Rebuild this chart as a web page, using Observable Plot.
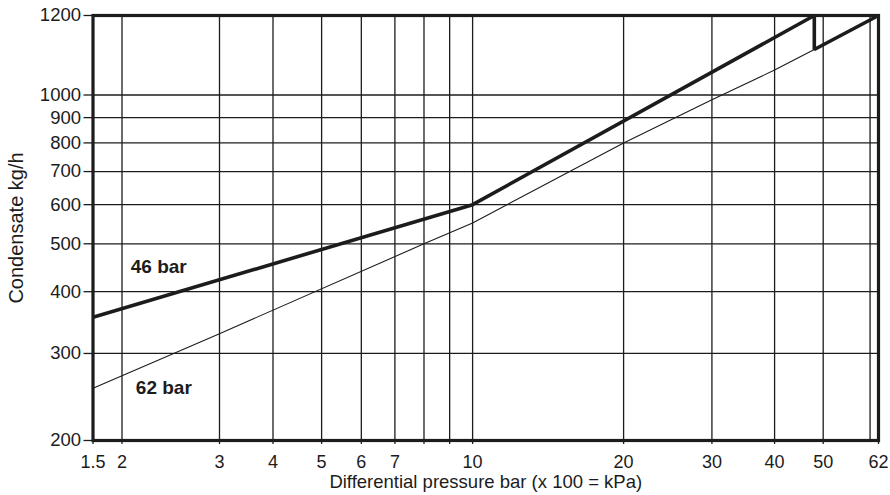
<!DOCTYPE html>
<html>
<head>
<meta charset="utf-8">
<script src="https://cdn.jsdelivr.net/npm/d3@7"></script>
<script src="https://cdn.jsdelivr.net/npm/@observablehq/plot@0.6"></script>
<style>
  html, body { margin: 0; padding: 0; background: #fff; }
</style>
</head>
<body>
<div id="chart"></div>
<script>
// Tick values and grid values
const xTicks = [1.5, 2, 3, 4, 5, 6, 7, 8, 9, 10, 20, 30, 40, 50, 62];
const xGrid = [2, 3, 4, 5, 6, 7, 8, 9, 10, 20, 30, 40, 50, 60];
const yTicks = [200, 300, 400, 500, 600, 700, 800, 900, 1000, 1200];
const yGrid = [300, 400, 500, 600, 700, 800, 900, 1000];

// 46 bar curve (thick)
const bar46X = [1.5, 10, 48, 48, 62];
const bar46Y = [355, 600, 1200, 1110, 1200];
// 62 bar curve (thin)
const bar62X = [1.5, 3, 8, 10, 20, 30, 40, 48];
const bar62Y = [255, 329, 500, 551, 800, 978, 1059, 1110];

// Curve labels
const labelText = ["46 bar", "62 bar"];
const labelX = [2.33, 2.38];
const labelY = [448, 256];

const xTitle = "Differential pressure bar (x 100 = kPa)";
const yTitle = "Condensate kg/h";

const line46 = bar46X.map((x, i) => [x, bar46Y[i]]);
const line62 = bar62X.map((x, i) => [x, bar62Y[i]]);
const labels = labelText.map((t, i) => ({t, x: labelX[i], y: labelY[i]}));

const ink = "#1c1c1c";

const chart = Plot.plot({
  width: 890,
  height: 495,
  marginLeft: 92.5,
  marginRight: 12,
  marginTop: 15,
  marginBottom: 55,
  style: {
    fontFamily: "'Liberation Sans', Arial, sans-serif",
    fontSize: "18px",
    color: ink,
    background: "#fff"
  },
  x: {type: "log", domain: [1.5, 2, 3, 4, 50, 62], range: [92.5, 121.5, 219, 272.5, 822.7, 878]},
  y: {type: "log", domain: [200, 1000, 1200], range: [440, 94.5, 15]},
  marks: [
    Plot.ruleX(xGrid, {stroke: ink, strokeWidth: 1.3}),
    Plot.ruleY(yGrid, {stroke: ink, strokeWidth: 1.3}),
    Plot.axisX({ticks: xTicks, tickFormat: d => String(d), tickSize: 4, tickPadding: 10.5, label: null, stroke: ink, strokeWidth: 1.3, fontSize: 18}),
    Plot.axisY({ticks: yTicks, tickFormat: d => String(d), tickSize: 9, tickPadding: 3, label: null, stroke: ink, strokeWidth: 1.3, fontSize: 18.5}),
    Plot.line(line62, {stroke: ink, strokeWidth: 1.1}),
    Plot.line(line46, {stroke: ink, strokeWidth: 3.6, strokeLinejoin: "miter", strokeLinecap: "butt"}),
    Plot.text(labels, {x: "x", y: "y", text: "t", fontWeight: "bold", fontSize: 19, fill: ink, style: "letter-spacing:1.2px"}),
    Plot.text([yTitle], {frameAnchor: "left", textAnchor: "middle", dx: -76, rotate: -90, text: d => d, fontSize: 20, fill: ink, style: "letter-spacing:0.8px"}),
    Plot.text([xTitle], {frameAnchor: "bottom", dy: 47, text: d => d, fontSize: 18.5, fill: ink, style: "letter-spacing:1px"}),
    Plot.frame({stroke: ink, strokeWidth: 3.2})
  ]
});
document.getElementById("chart").appendChild(chart);
</script>
</body>
</html>
